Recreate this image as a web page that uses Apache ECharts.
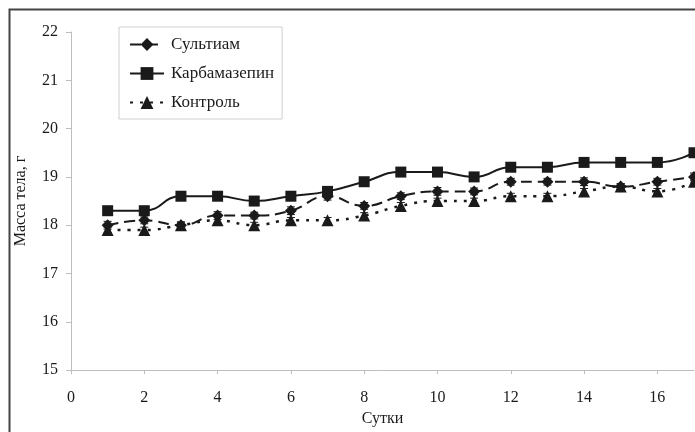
<!DOCTYPE html>
<html>
<head>
<meta charset="utf-8">
<script src="https://cdn.jsdelivr.net/npm/echarts@6/dist/echarts.min.js"></script>
<style>html,body{margin:0;padding:0;background:#fff}#c{width:695px;height:432px}</style>
</head>
<body>
<div id="c"></div>
<script>
var days = [1,2,3,4,5,6,7,8,9,10,11,12,13,14,15,16,17];
var sultiam = [18.0,18.1,18.0,18.2,18.2,18.3,18.6,18.4,18.6,18.7,18.7,18.9,18.9,18.9,18.8,18.9,19.0];
var karbam  = [18.3,18.3,18.6,18.6,18.5,18.6,18.7,18.9,19.1,19.1,19.0,19.2,19.2,19.3,19.3,19.3,19.5];
var kontrol = [17.9,17.9,18.0,18.1,18.0,18.1,18.1,18.2,18.4,18.5,18.5,18.6,18.6,18.7,18.8,18.7,18.9];
var errSultiam = [0.08,0.07,0.07,0.08,0.07,0.08,0.08,0.07,0.07,0.08,0.07,0.07,0.07,0.08,0.06,0.07,0.08];
var errKarbam  = [0.07,0.06,0.07,0.07,0.07,0.06,0.07,0.06,0.07,0.07,0.06,0.07,0.06,0.07,0.06,0.06,0.07];
var errKontrol = [0.06,0.06,0.06,0.07,0.06,0.06,0.06,0.06,0.07,0.06,0.06,0.06,0.06,0.06,0.06,0.06,0.06];
var names = ['Сультиам','Карбамазепин','Контроль'];
var yTicks = [15,16,17,18,19,20,21,22];
var xTicks = [0,2,4,6,8,10,12,14,16];

var FONT = 'Liberation Serif';
var INK = '#1a1a1a';

function pairs(vals){ return days.map(function(d,i){ return [d, vals[i]]; }); }
function errData(vals, errs){ return days.map(function(d,i){ return [d, vals[i]-errs[i], vals[i]+errs[i]]; }); }

function errSeries(vals, errs){
  return {
    type: 'custom',
    silent: true,
    z: 1,
    data: errData(vals, errs),
    renderItem: function(params, api){
      var lo = api.coord([api.value(0), api.value(1)]);
      var hi = api.coord([api.value(0), api.value(2)]);
      var w = 4;
      var st = {stroke: INK, lineWidth: 1};
      return {type:'group', children:[
        {type:'line', shape:{x1:lo[0],y1:lo[1],x2:hi[0],y2:hi[1]}, style:st},
        {type:'line', shape:{x1:lo[0]-w,y1:lo[1],x2:lo[0]+w,y2:lo[1]}, style:st},
        {type:'line', shape:{x1:hi[0]-w,y1:hi[1],x2:hi[0]+w,y2:hi[1]}, style:st}
      ]};
    }
  };
}

var chart = echarts.init(document.getElementById('c'), null, {renderer:'canvas'});
chart.setOption({
  animation: false,
  backgroundColor: '#fff',
  graphic: [{
    type: 'rect', left: 7, top: 7, z: -10,
    shape: {x: 0, y: 0, width: 700, height: 440},
    style: {fill: 'none', stroke: '#444', lineWidth: 2}
  }],
  grid: {left: 71, right: 1, top: 32, bottom: 55},
  legend: {
    orient: 'vertical',
    left: 119, top: 27,
    data: names,
    padding: [9, 8, 8, 10],
    itemGap: 12,
    itemWidth: 34, itemHeight: 16,
    borderColor: '#cfcfcf', borderWidth: 1,
    backgroundColor: '#fff',
    textStyle: {fontFamily: FONT, fontSize: 17, color: INK, padding: [0,0,0,2]}
  },
  xAxis: {
    type: 'value', min: 0, max: 17, interval: 2,
    name: 'Сутки', nameLocation: 'middle', nameGap: 39,
    nameTextStyle: {fontFamily: FONT, fontSize: 16, color: INK},
    axisLine: {lineStyle: {color: '#bdbdbd'}},
    axisTick: {show: true, length: 4, lineStyle: {color: '#bdbdbd'}},
    axisLabel: {fontFamily: FONT, fontSize: 16, color: INK, margin: 20, showMaxLabel: false,
      formatter: function(v){ return xTicks.indexOf(v) >= 0 ? String(v) : ''; }},
    splitLine: {show: false}
  },
  yAxis: {
    type: 'value', min: 15, max: 22, interval: 1,
    name: 'Масса тела, г', nameLocation: 'middle', nameGap: 42,
    nameTextStyle: {fontFamily: FONT, fontSize: 16, color: INK},
    axisLine: {show: true, lineStyle: {color: '#bdbdbd'}},
    axisTick: {show: true, length: 5, lineStyle: {color: '#bdbdbd'}},
    axisLabel: {fontFamily: FONT, fontSize: 16, color: INK, margin: 13,
      formatter: function(v){ return yTicks.indexOf(v) >= 0 ? String(v) : ''; }},
    splitLine: {show: false}
  },
  series: [
    {
      name: names[0], type: 'line', data: pairs(sultiam), smooth: 0.5,
      symbol: 'diamond', symbolSize: 12, z: 3,
      lineStyle: {color: INK, width: 2, type: [11, 6]},
      itemStyle: {color: INK}
    },
    {
      name: names[1], type: 'line', data: pairs(karbam), smooth: 0.5,
      symbol: 'rect', symbolSize: 11, z: 3,
      lineStyle: {color: INK, width: 2, type: 'solid'},
      itemStyle: {color: INK}
    },
    {
      name: names[2], type: 'line', data: pairs(kontrol), smooth: 0.5,
      symbol: 'triangle', symbolSize: 12, z: 3,
      lineStyle: {color: INK, width: 2.5, type: [3, 7]},
      itemStyle: {color: INK}
    },
    errSeries(sultiam, errSultiam),
    errSeries(karbam, errKarbam),
    errSeries(kontrol, errKontrol)
  ]
});
</script>
</body>
</html>
